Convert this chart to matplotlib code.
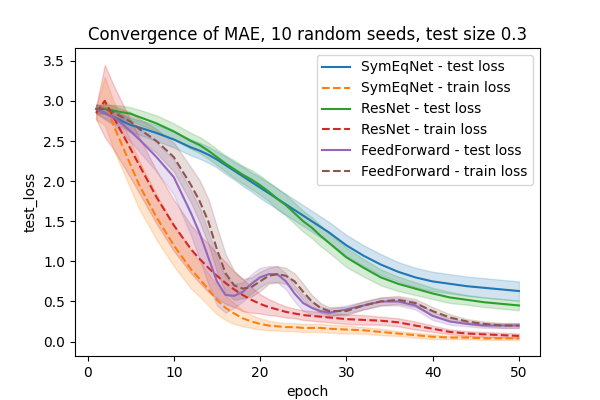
import matplotlib
matplotlib.use("Agg")
import matplotlib.pyplot as plt
import numpy as np

epochs = [1,2,3,4,5,6,8,10,12,13,14,15,16,17,18,19,20,21,22,23,24,25,26,27,28,30,32,34,36,38,40,42,44,46,48,50]
sym_test = [2.9,2.85,2.8,2.75,2.7,2.67,2.6,2.52,2.42,2.38,2.33,2.27,2.2,2.13,2.06,1.99,1.92,1.85,1.78,1.71,1.64,1.57,1.5,1.43,1.36,1.2,1.07,0.96,0.87,0.8,0.75,0.72,0.69,0.67,0.65,0.63]
sym_train = [2.85,3.0,2.7,2.45,2.2,1.95,1.55,1.2,0.9,0.78,0.65,0.52,0.42,0.35,0.29,0.25,0.22,0.2,0.19,0.18,0.18,0.17,0.17,0.17,0.16,0.15,0.14,0.12,0.1,0.08,0.06,0.05,0.05,0.04,0.04,0.04]
res_test = [2.9,2.9,2.88,2.86,2.84,2.8,2.72,2.62,2.5,2.45,2.38,2.3,2.22,2.15,2.08,2.02,1.95,1.87,1.78,1.7,1.6,1.5,1.42,1.32,1.23,1.05,0.92,0.8,0.72,0.66,0.6,0.55,0.52,0.49,0.47,0.45]
res_train = [2.85,3.0,2.8,2.6,2.4,2.2,1.8,1.45,1.15,1.03,0.92,0.82,0.73,0.65,0.58,0.52,0.47,0.43,0.4,0.37,0.35,0.33,0.32,0.31,0.3,0.28,0.27,0.26,0.24,0.2,0.16,0.12,0.1,0.09,0.08,0.07]
ff_test = [2.9,2.85,2.8,2.72,2.62,2.52,2.3,2.05,1.6,1.35,1.05,0.75,0.58,0.57,0.62,0.72,0.8,0.84,0.84,0.75,0.6,0.48,0.42,0.38,0.36,0.4,0.45,0.5,0.5,0.45,0.32,0.25,0.22,0.2,0.2,0.2]
ff_train = [2.9,2.9,2.86,2.8,2.74,2.65,2.5,2.3,1.95,1.75,1.5,1.15,0.85,0.7,0.66,0.68,0.75,0.82,0.84,0.82,0.75,0.62,0.5,0.42,0.38,0.38,0.45,0.5,0.52,0.48,0.38,0.3,0.25,0.22,0.2,0.2]

sym_test_sd = [0.06,0.07,0.08,0.08,0.09,0.09,0.1,0.1,0.1,0.1,0.1,0.1,0.11,0.11,0.12,0.12,0.13,0.13,0.13,0.13,0.13,0.13,0.13,0.13,0.13,0.13,0.13,0.13,0.12,0.12,0.12,0.12,0.12,0.12,0.12,0.12]
sym_train_sd = [0.08,0.3,0.3,0.3,0.3,0.3,0.28,0.26,0.24,0.22,0.2,0.18,0.15,0.13,0.1,0.08,0.07,0.06,0.05,0.05,0.05,0.05,0.05,0.05,0.05,0.05,0.04,0.04,0.03,0.03,0.03,0.02,0.02,0.02,0.02,0.02]
res_test_sd = [0.05,0.06,0.07,0.08,0.08,0.09,0.1,0.1,0.1,0.1,0.1,0.1,0.1,0.11,0.11,0.12,0.12,0.12,0.13,0.13,0.13,0.13,0.13,0.13,0.12,0.12,0.11,0.1,0.09,0.08,0.07,0.07,0.06,0.06,0.06,0.06]
res_train_sd = [0.08,0.45,0.4,0.38,0.36,0.35,0.33,0.32,0.3,0.3,0.3,0.28,0.26,0.22,0.2,0.16,0.12,0.1,0.08,0.07,0.06,0.06,0.06,0.06,0.06,0.06,0.06,0.05,0.05,0.05,0.04,0.03,0.03,0.03,0.03,0.03]
ff_test_sd = [0.05,0.08,0.1,0.12,0.13,0.15,0.18,0.22,0.28,0.32,0.33,0.3,0.22,0.15,0.12,0.12,0.12,0.1,0.1,0.1,0.1,0.1,0.08,0.06,0.05,0.05,0.05,0.05,0.05,0.05,0.05,0.04,0.03,0.03,0.03,0.03]
ff_train_sd = [0.05,0.06,0.08,0.1,0.12,0.13,0.15,0.18,0.22,0.26,0.28,0.28,0.24,0.18,0.12,0.12,0.12,0.1,0.1,0.1,0.1,0.1,0.08,0.06,0.05,0.05,0.05,0.05,0.05,0.05,0.05,0.04,0.03,0.03,0.03,0.03]

series = [
    ("SymEqNet - test loss", sym_test, sym_test_sd, "#1f77b4", "-"),
    ("SymEqNet - train loss", sym_train, sym_train_sd, "#ff7f0e", "--"),
    ("ResNet - test loss", res_test, res_test_sd, "#2ca02c", "-"),
    ("ResNet - train loss", res_train, res_train_sd, "#d62728", "--"),
    ("FeedForward - test loss", ff_test, ff_test_sd, "#9467bd", "-"),
    ("FeedForward - train loss", ff_train, ff_train_sd, "#8c564b", "--"),
]

fig, ax = plt.subplots(figsize=(6, 4), dpi=100)
x = np.array(epochs)
for label, m, sd, c, ls in series:
    m = np.array(m); sd = np.array(sd)
    ax.fill_between(x, m - sd, m + sd, color=c, alpha=0.2)
    ax.plot(x, m, color=c, ls=ls, lw=1.5, label=label)
ax.set_title("Convergence of MAE, 10 random seeds, test size 0.3")
ax.set_xlabel("epoch")
ax.set_ylabel("test_loss")
ax.set_yticks([0.0,0.5,1.0,1.5,2.0,2.5,3.0,3.5])
ax.set_ylim(-0.18, 3.66)
ax.legend(loc="upper right")
fig.savefig("out.png")
